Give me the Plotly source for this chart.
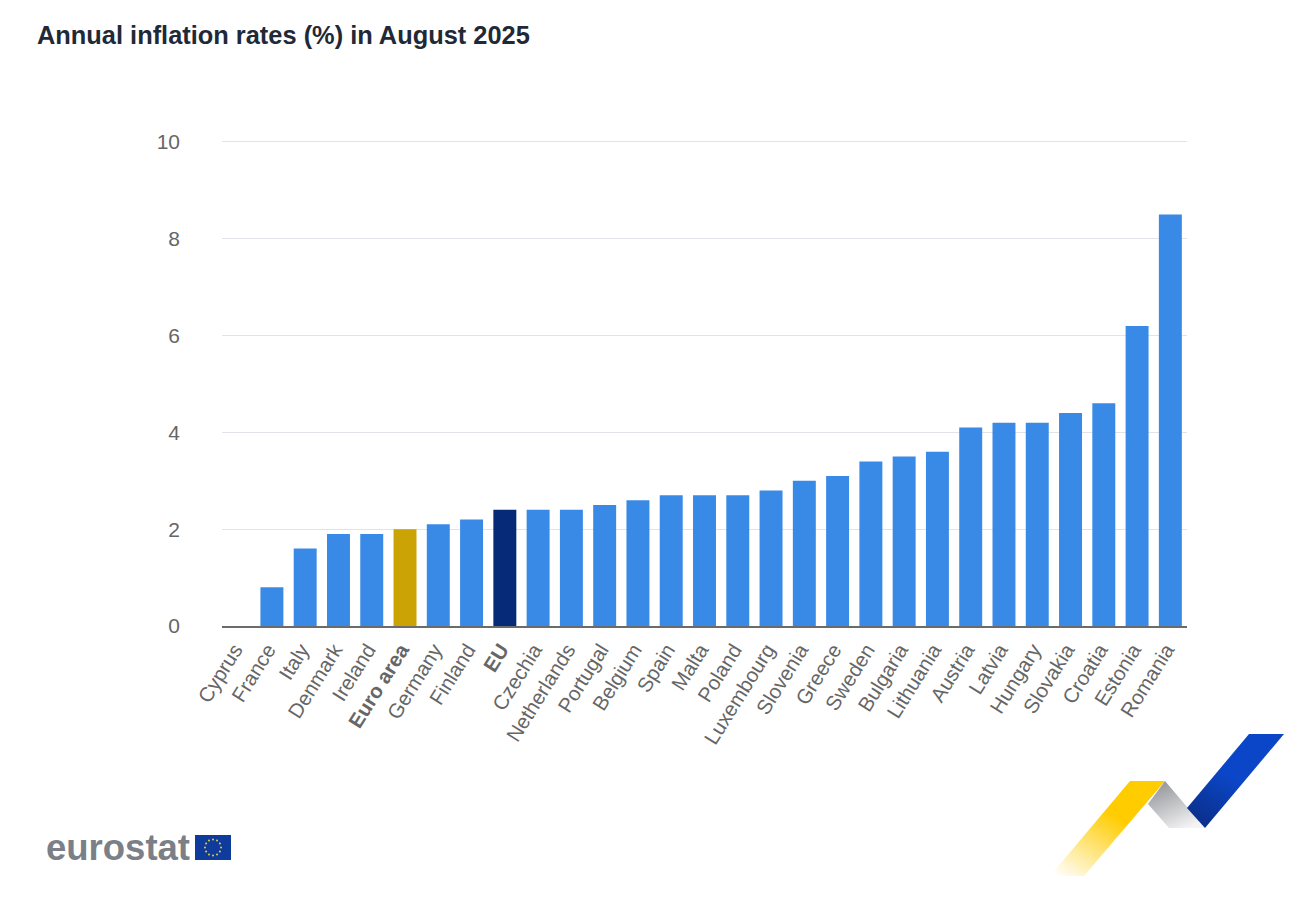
from base64 import b64encode
from math import cos, pi, sin

import plotly.graph_objects as go

W, H = 1311, 909
FONT = 'Liberation Sans'

countries = [
    'Cyprus', 'France', 'Italy', 'Denmark', 'Ireland', 'Euro area', 'Germany', 'Finland', 'EU',
    'Czechia', 'Netherlands', 'Portugal', 'Belgium', 'Spain', 'Malta', 'Poland', 'Luxembourg',
    'Slovenia', 'Greece', 'Sweden', 'Bulgaria', 'Lithuania', 'Austria', 'Latvia', 'Hungary',
    'Slovakia', 'Croatia', 'Estonia', 'Romania',
]
rates = [
    0.0, 0.8, 1.6, 1.9, 1.9, 2.0, 2.1, 2.2, 2.4,
    2.4, 2.4, 2.5, 2.6, 2.7, 2.7, 2.7, 2.8,
    3.0, 3.1, 3.4, 3.5, 3.6, 4.1, 4.2, 4.2,
    4.4, 4.6, 6.2, 8.5,
]
highlight = {'Euro area': '#cba304', 'EU': '#072a78'}
y_ticks = [0, 2, 4, 6, 8, 10]


def svg_uri(svg):
    return 'data:image/svg+xml;base64,' + b64encode(svg.encode()).decode()


# ribbon logo, bottom right
ribbon = """<svg xmlns="http://www.w3.org/2000/svg" width="270" height="170" viewBox="0 0 270 170">
<defs>
<linearGradient id="y" x1="0.05" y1="1" x2="0.55" y2="0.35">
<stop offset="0" stop-color="#ffcc00" stop-opacity="0"/><stop offset="1" stop-color="#ffcc00"/></linearGradient>
<linearGradient id="g" x1="0.15" y1="0" x2="0.7" y2="1">
<stop offset="0" stop-color="#8f9196"/><stop offset="1" stop-color="#f4f4f5"/></linearGradient>
<linearGradient id="b" x1="0.3" y1="1" x2="0.6" y2="0.55">
<stop offset="0" stop-color="#0a318f"/><stop offset="1" stop-color="#0b46c8"/></linearGradient>
</defs>
<polygon points="20,156 100,61 135,61 54,156" fill="url(#y)"/>
<polygon points="118,84 135,61 175,108 139,108" fill="url(#g)"/>
<polygon points="157,88 219,14 254,14 175,108" fill="url(#b)"/>
</svg>"""

# EU flag next to the eurostat wordmark
stars = ''.join(
    f'<circle cx="{18 + 8 * cos(i * pi / 6):.1f}" cy="{12.5 + 8 * sin(i * pi / 6):.1f}" r="1" fill="#e8c94a"/>'
    for i in range(12)
)
flag = f"""<svg xmlns="http://www.w3.org/2000/svg" width="36" height="25" viewBox="0 0 36 25">
<rect width="36" height="25" fill="#0f3c9c"/>{stars}</svg>"""

labels = [f'<b>{c}</b>' if c in highlight else c for c in countries]

fig = go.Figure(go.Bar(
    x=labels,
    y=rates,
    marker=dict(color=[highlight.get(c, '#388ae6') for c in countries], line_width=0),
    hovertemplate='%{x}: %{y}%<extra></extra>',
))

fig.update_layout(
    width=W,
    height=H,
    autosize=False,
    margin=dict(l=222, r=124, t=140, b=283, autoexpand=False),
    paper_bgcolor='white',
    plot_bgcolor='white',
    bargap=0.31,
    showlegend=False,
    font=dict(family=FONT, color='#666666', size=20),
    title=dict(
        text='<b>Annual inflation rates (%) in August 2025</b>',
        x=37 / W,
        xanchor='left',
        y=1 - 35 / H,
        yanchor='middle',
        font=dict(family=FONT, size=25.4, color='#1f2937'),
    ),
    annotations=[dict(
        text='<b>eurostat</b>',
        xref='paper', yref='paper',
        x=-178 / 965,
        y=-221 / 486,
        xanchor='left', yanchor='middle',
        showarrow=False,
        font=dict(family=FONT, size=36.5, color='#7b7f88'),
    )],
    images=[
        dict(
            source=svg_uri(ribbon),
            xref='paper', yref='paper',
            x=(1030 - 222) / 965, y=(626 - 720) / 486,
            sizex=270 / 965, sizey=170 / 486,
            xanchor='left', yanchor='top', sizing='stretch', layer='above',
        ),
        dict(
            source=svg_uri(flag),
            xref='paper', yref='paper',
            x=(195 - 222) / 965, y=(626 - 835) / 486,
            sizex=36 / 965, sizey=25 / 486,
            xanchor='left', yanchor='top', sizing='stretch', layer='above',
        ),
    ],
)
fig.update_xaxes(
    type='category',
    tickangle=-58,
    showgrid=False,
    ticks='',
    showline=True,
    linecolor='#6b6b6b',
    linewidth=1.5,
    ticklabelstandoff=2,
    ticklabelshift=-4,
    tickfont=dict(size=20.5, color='#666666'),
)
fig.update_yaxes(
    # a bit over 10: plotly drops gridlines within 1px of the plot edge
    range=[0, 10.04],
    tickvals=y_ticks,
    showgrid=True,
    gridcolor='#e0e3eb',
    gridwidth=1.4,
    zeroline=False,
    ticks='',
    ticklabelstandoff=41,
    tickfont=dict(size=21, color='#666666'),
)

# drop the browser's default body margin so the figure sits at the page corner
fig.write_html(
    'out.html',
    config={'displayModeBar': False},
    post_script="document.body.style.margin = '0';",
)
